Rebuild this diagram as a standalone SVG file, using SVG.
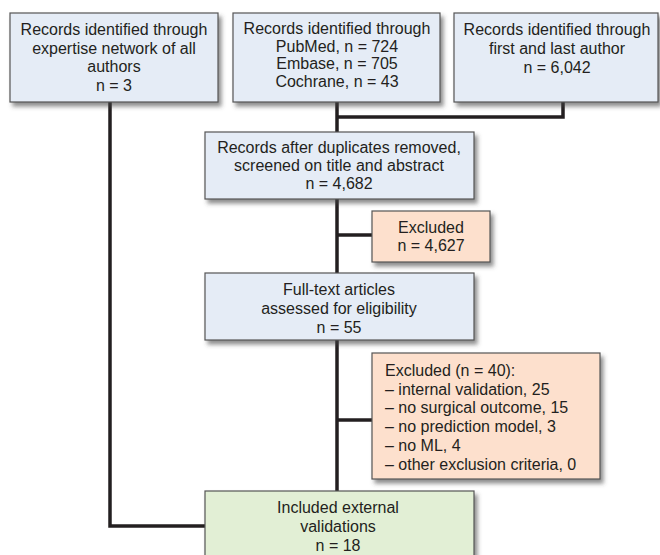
<svg xmlns="http://www.w3.org/2000/svg" width="660" height="555" viewBox="0 0 660 555">
<defs>
<filter id="sh" x="-10%" y="-10%" width="130%" height="140%">
<feDropShadow dx="3" dy="4" stdDeviation="2" flood-color="#444" flood-opacity="0.6"/>
</filter>
<style>
.box{stroke:#555;stroke-width:1.2;filter:url(#sh)}
.blue{fill:#e5ecf6}
.orange{fill:#fde0cd}
.green{fill:#e2efd5}
text{font-family:"Liberation Sans",Arial,sans-serif;font-size:16px;fill:#231f20}
.c{text-anchor:middle}
.conn{fill:none;stroke:#231f20;stroke-width:3.5}
</style>
</defs>
<rect width="660" height="555" fill="#fff"/>
<g id="connectors">
<path class="conn" d="M110,102 V526 H205"/>
<path class="conn" d="M337,102 V132"/>
<path class="conn" d="M563,102 V117 H337"/>
<path class="conn" d="M337,199 V273"/>
<path class="conn" d="M337,235 H372"/>
<path class="conn" d="M337,340 V491"/>
<path class="conn" d="M337,420 H372"/>
</g>
<g id="n1">
<rect class="box blue" x="10" y="13" width="208" height="89"/>
<text class="c" x="114" y="35">Records identified through</text>
<text class="c" x="114" y="53.5">expertise network of all</text>
<text class="c" x="114" y="72">authors</text>
<text class="c" x="114" y="90.5">n = 3</text>
</g>
<g id="n2">
<rect class="box blue" x="233" y="13" width="207" height="89"/>
<text class="c" x="337" y="34">Records identified through</text>
<text class="c" x="337" y="51.5">PubMed, n = 724</text>
<text class="c" x="337" y="69">Embase, n = 705</text>
<text class="c" x="337" y="86.5">Cochrane, n = 43</text>
</g>
<g id="n3">
<rect class="box blue" x="454" y="13" width="204" height="89"/>
<text class="c" x="557" y="35">Records identified through</text>
<text class="c" x="557" y="54">first and last author</text>
<text class="c" x="557" y="73">n = 6,042</text>
</g>
<g id="n4">
<rect class="box blue" x="205" y="132" width="269" height="67"/>
<text class="c" x="339" y="152.5">Records after duplicates removed,</text>
<text class="c" x="339" y="170.5">screened on title and abstract</text>
<text class="c" x="339" y="188.5">n = 4,682</text>
</g>
<g id="n5">
<rect class="box orange" x="372" y="211" width="118" height="51"/>
<text class="c" x="431" y="232.5">Excluded</text>
<text class="c" x="431" y="250.5">n = 4,627</text>
</g>
<g id="n6">
<rect class="box blue" x="205" y="273" width="269" height="67"/>
<text class="c" x="339" y="294.5">Full-text articles</text>
<text class="c" x="339" y="313.5">assessed for eligibility</text>
<text class="c" x="339" y="332.5">n = 55</text>
</g>
<g id="n7">
<rect class="box orange" x="372" y="353" width="228" height="126"/>
<text x="385" y="375.5">Excluded (n = 40):</text>
<text x="385" y="394.5">– internal validation, 25</text>
<text x="385" y="413">– no surgical outcome, 15</text>
<text x="385" y="432">– no prediction model, 3</text>
<text x="385" y="450.5">– no ML, 4</text>
<text x="385" y="469.5">– other exclusion criteria, 0</text>
</g>
<g id="n8">
<rect class="box green" x="205" y="491" width="269" height="75"/>
<text class="c" x="338" y="512.5">Included external</text>
<text class="c" x="338" y="531.5">validations</text>
<text class="c" x="338" y="550.5">n = 18</text>
</g>
</svg>
